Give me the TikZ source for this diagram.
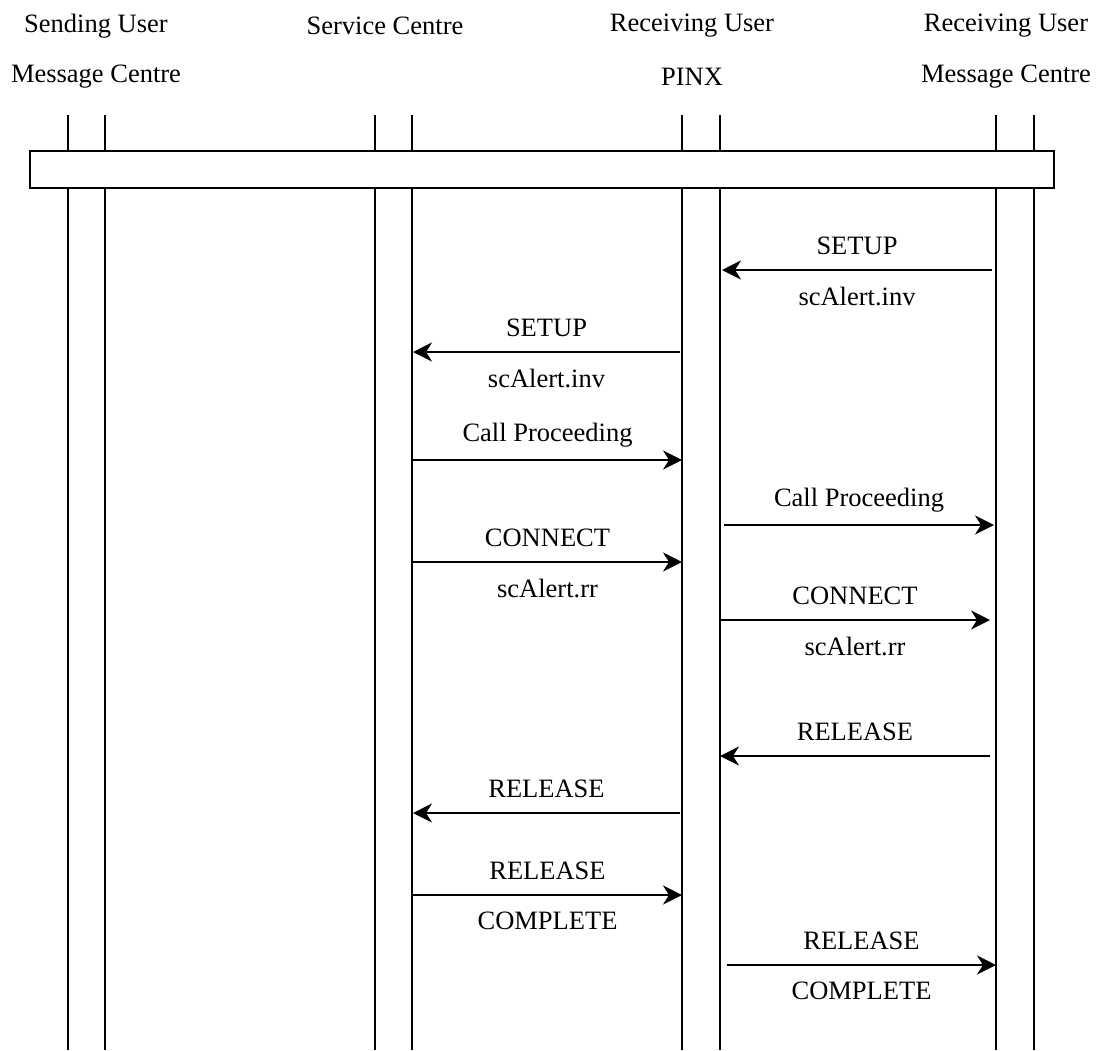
\documentclass[tikz,border=0pt]{standalone}
\usepackage{fontspec}
\setmainfont{Liberation Serif}
\usetikzlibrary{positioning, arrows.meta}

\tikzset{
  life/.style={line width=1.8pt},
  msg/.style={line width=1.6pt, -{Stealth[length=19pt, width=19pt, inset=6pt]}},
  lbl/.style={inner sep=0pt, font=\fontsize{26.5}{30}\selectfont},
}

\begin{document}
\begin{tikzpicture}[x=1pt, y=-1pt]
  \useasboundingbox (0,0) rectangle (1103,1050);

  % Titoli delle entita
  \node[lbl] (smc1) at (96,26) {Sending User};
  \node[lbl, below=51pt of smc1.center, anchor=center] (smc2) {Message Centre};
  \node[lbl] (sc1) at (385,26) {Service Centre};
  \node[lbl] (pinx1) at (692,26) {Receiving User};
  \node[lbl, below=51pt of pinx1.center, anchor=center] (pinx2) {PINX};
  \node[lbl] (rmc1) at (1006,26) {Receiving User};
  \node[lbl, below=51pt of rmc1.center, anchor=center] (rmc2) {Message Centre};

  % Linee di vita
  \foreach \n/\x in {smcA/68, smcB/105, scA/375, scB/412, pinxA/682, pinxB/720, rmcA/996, rmcB/1034} {
    \coordinate (\n top) at (\x,115);
    \coordinate (\n bot) at (\x,1050);
    \draw[life] (\n top) -- (\n bot);
  }

  % Barra orizzontale
  \node[draw, line width=1.6pt, fill=white, minimum width=1024pt, minimum height=37pt, inner sep=0pt] (bar) at (542,169.5) {};

  % Messaggi
  \coordinate (m1s) at (992,270);  \coordinate (m1e) at (722,270);
  \coordinate (m2s) at (680,352);  \coordinate (m2e) at (413,352);
  \coordinate (m3s) at (413,460);  \coordinate (m3e) at (682,460);
  \coordinate (m4s) at (724,525);  \coordinate (m4e) at (994,525);
  \coordinate (m5s) at (413,562);  \coordinate (m5e) at (682,562);
  \coordinate (m6s) at (720,620);  \coordinate (m6e) at (990,620);
  \coordinate (m7s) at (990,756);  \coordinate (m7e) at (720,756);
  \coordinate (m8s) at (680,813);  \coordinate (m8e) at (413,813);
  \coordinate (m9s) at (413,895);  \coordinate (m9e) at (682,895);
  \coordinate (m10s) at (727,965); \coordinate (m10e) at (996,965);

  \draw[msg] (m1s) -- node[lbl, above=14pt] (t1a) {SETUP} node[lbl, below=16pt] (t1b) {scAlert.inv} (m1e);
  \draw[msg] (m2s) -- node[lbl, above=14pt] (t2a) {SETUP} node[lbl, below=16pt] (t2b) {scAlert.inv} (m2e);
  \draw[msg] (m3s) -- node[lbl, above=12pt] (t3a) {Call Proceeding} (m3e);
  \draw[msg] (m4s) -- node[lbl, above=12pt] (t4a) {Call Proceeding} (m4e);
  \draw[msg] (m5s) -- node[lbl, above=14pt] (t5a) {CONNECT} node[lbl, below=16pt] (t5b) {scAlert.rr} (m5e);
  \draw[msg] (m6s) -- node[lbl, above=14pt] (t6a) {CONNECT} node[lbl, below=16pt] (t6b) {scAlert.rr} (m6e);
  \draw[msg] (m7s) -- node[lbl, above=14pt] (t7a) {RELEASE} (m7e);
  \draw[msg] (m8s) -- node[lbl, above=14pt] (t8a) {RELEASE} (m8e);
  \draw[msg] (m9s) -- node[lbl, above=14pt] (t9a) {RELEASE} node[lbl, below=16pt] (t9b) {COMPLETE} (m9e);
  \draw[msg] (m10s) -- node[lbl, above=14pt] (t10a) {RELEASE} node[lbl, below=16pt] (t10b) {COMPLETE} (m10e);
\end{tikzpicture}
\end{document}
